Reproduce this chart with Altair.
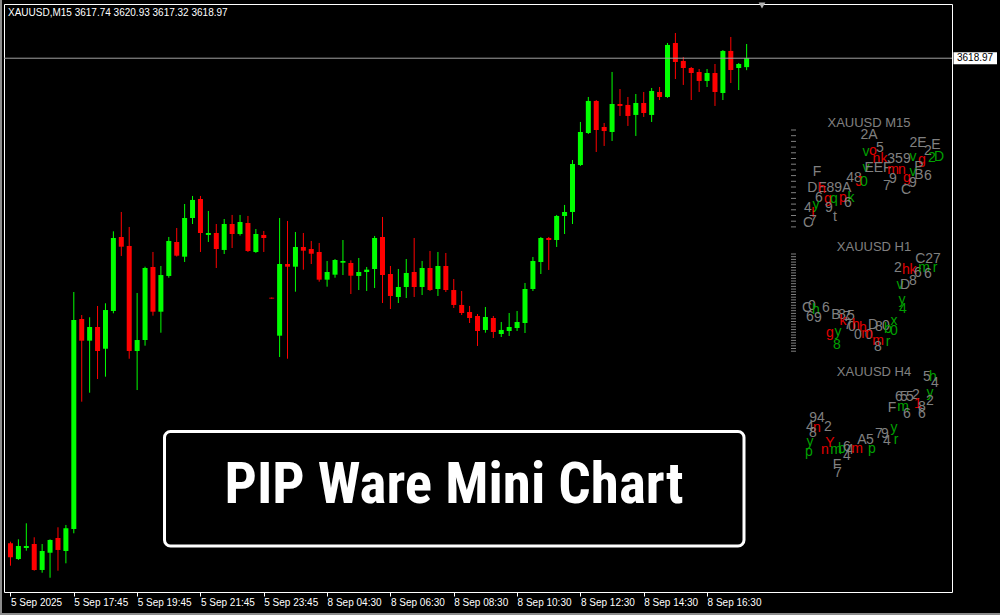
import altair as alt
import pandas as pd

# ---- XAUUSD M15 candles, 5 Sep 15:45 .. 8 Sep ----
OPEN = [3552.03, 3549.86, 3551.38, 3551.93, 3548.35, 3550.73, 3552.76, 3550.97, 3554.00, 3582.98,
        3579.99, 3581.88, 3578.88, 3584.09, 3594.30, 3593.06, 3578.57, 3580.08, 3590.16, 3583.99,
        3588.92, 3593.61, 3591.58, 3596.92, 3599.54, 3594.58, 3594.85, 3592.51, 3596.09, 3594.71,
        3596.23, 3592.23, 3594.58, 3585.92, 3580.68, 3590.57, 3590.20, 3592.92, 3592.64, 3592.23,
        3588.41, 3589.10, 3590.75, 3590.71, 3588.92, 3589.47, 3589.88, 3594.30, 3589.19, 3586.02,
        3587.40, 3589.47, 3587.40, 3590.02, 3587.12, 3590.30, 3586.98, 3584.92, 3583.95, 3583.40,
        3581.47, 3583.12, 3580.91, 3581.33, 3581.74, 3582.43, 3587.12, 3590.85, 3594.16, 3593.88,
        3597.20, 3597.75, 3604.23, 3608.65, 3613.07, 3609.48, 3608.79, 3612.65, 3612.52, 3611.14,
        3612.79, 3611.14, 3614.31, 3613.62, 3621.07, 3618.59, 3617.62, 3617.07, 3615.83, 3616.93,
        3614.17, 3619.97, 3617.62, 3617.74]
HIGH = [3552.25, 3552.58, 3554.79, 3552.86, 3551.93, 3552.58, 3554.24, 3554.56, 3586.71, 3583.53,
        3583.22, 3584.78, 3585.15, 3595.08, 3597.75, 3595.68, 3586.57, 3590.20, 3592.23, 3590.30,
        3594.30, 3595.54, 3598.85, 3599.96, 3599.96, 3597.89, 3596.09, 3596.78, 3597.34, 3597.34,
        3597.20, 3595.40, 3595.13, 3585.95, 3596.92, 3596.51, 3594.99, 3594.85, 3593.75, 3593.47,
        3590.99, 3591.26, 3593.88, 3591.08, 3591.40, 3590.16, 3594.44, 3597.06, 3590.30, 3589.88,
        3591.26, 3594.16, 3590.99, 3592.37, 3592.23, 3592.09, 3588.50, 3586.85, 3584.78, 3583.67,
        3584.64, 3583.40, 3582.57, 3583.81, 3584.09, 3587.95, 3591.54, 3594.30, 3594.30, 3597.34,
        3598.72, 3604.92, 3610.17, 3613.62, 3613.20, 3610.03, 3617.07, 3614.72, 3613.62, 3614.03,
        3614.31, 3614.86, 3615.00, 3621.07, 3622.45, 3619.14, 3617.76, 3617.48, 3617.48, 3618.17,
        3620.10, 3621.90, 3618.31, 3620.93]
LOW = [3548.94, 3549.73, 3551.01, 3548.25, 3547.97, 3547.28, 3548.25, 3549.27, 3553.41, 3571.57,
       3572.81, 3574.70, 3575.02, 3583.77, 3591.68, 3577.50, 3573.18, 3579.30, 3583.44, 3581.09,
       3588.68, 3591.60, 3590.85, 3596.09, 3592.23, 3593.61, 3590.02, 3591.95, 3592.78, 3594.50,
       3592.23, 3592.10, 3592.23, 3585.78, 3577.74, 3577.50, 3586.75, 3589.79, 3590.57, 3588.13,
       3587.44, 3588.68, 3589.05, 3586.43, 3586.98, 3586.85, 3587.26, 3585.19, 3584.36, 3585.19,
       3585.88, 3586.02, 3586.29, 3586.85, 3586.16, 3586.71, 3584.50, 3583.53, 3582.43, 3579.26,
       3581.09, 3580.36, 3580.50, 3580.64, 3581.33, 3581.05, 3586.85, 3589.19, 3589.75, 3592.92,
       3594.71, 3596.09, 3604.10, 3608.51, 3606.03, 3606.86, 3607.55, 3611.00, 3609.62, 3608.24,
       3610.86, 3610.17, 3613.20, 3613.50, 3616.10, 3615.28, 3613.20, 3614.31, 3615.00, 3612.38,
       3613.20, 3615.55, 3614.58, 3617.32]
CLOSE = [3550.10, 3551.66, 3551.66, 3548.35, 3550.97, 3552.49, 3551.11, 3554.10, 3582.84, 3579.99,
         3581.88, 3578.57, 3584.22, 3594.16, 3592.96, 3578.57, 3580.08, 3590.02, 3583.99, 3589.05,
         3593.75, 3591.72, 3596.92, 3599.41, 3594.85, 3594.85, 3592.64, 3596.09, 3594.71, 3596.37,
         3592.37, 3594.71, 3594.16, 3585.80, 3590.57, 3590.20, 3592.92, 3592.41, 3591.99, 3588.41,
         3589.47, 3591.12, 3590.99, 3588.96, 3589.47, 3589.79, 3594.16, 3589.05, 3586.16, 3587.40,
         3589.33, 3587.40, 3590.02, 3586.98, 3590.30, 3586.98, 3584.92, 3583.81, 3583.12, 3581.33,
         3583.26, 3581.19, 3581.47, 3581.88, 3582.57, 3587.12, 3590.99, 3594.16, 3593.88, 3597.20,
         3597.75, 3604.37, 3608.79, 3613.07, 3609.06, 3608.92, 3612.65, 3612.38, 3611.00, 3612.79,
         3611.41, 3614.45, 3613.62, 3620.80, 3618.45, 3617.62, 3616.93, 3615.83, 3616.93, 3614.31,
         3619.97, 3617.34, 3618.17, 3618.97]

SYMBOL = "XAUUSD,M15"
XLABELS = ["5 Sep 2025", "5 Sep 17:45", "5 Sep 19:45", "5 Sep 21:45", "5 Sep 23:45",
           "8 Sep 04:30", "8 Sep 06:30", "8 Sep 08:30", "8 Sep 10:30", "8 Sep 12:30",
           "8 Sep 14:30", "8 Sep 16:30"]
YTICKS = [3623.00, 3618.40, 3613.90, 3609.40, 3604.90, 3600.40, 3595.80, 3591.30, 3586.80,
          3582.20, 3577.70, 3573.20, 3568.70, 3564.10, 3559.60, 3555.10, 3550.60, 3546.00]

BANNER = "PIP Ware Mini Chart"
MINI_TITLES = [("XAUUSD M15", 869, 123), ("XAUUSD H1", 874, 247), ("XAUUSD H4", 874, 372)]

G, R, N = "#808080", "#E00000", "#00A000"
# glyphs printed by the mini-chart indicator (char, x, y, colour), screen pixels
MINI_GLYPHS = [
    ("2A", 869, 135, G), ("2E", 918, 143, G), ("E", 936, 145, G), ("2", 928, 151, G),
    ("v", 866, 152, N), ("o", 873, 151, R), ("5", 880, 148, G), ("nk", 880, 159, R),
    ("359", 899, 159, G), ("v", 913, 157, N), ("g", 922, 160, R), ("2", 932, 158, N),
    ("D", 939, 157, N), ("v", 866, 168, N), ("EEF", 878, 168, G), ("m", 893, 170, R),
    ("n", 902, 170, R), ("P", 919, 167, G), ("v", 913, 172, N), ("B", 919, 175, G),
    ("6", 928, 176, G), ("9", 893, 179, G), ("7", 887, 186, G), ("g", 907, 178, R),
    ("9", 913, 183, G), ("C", 906, 190, G), ("F", 817, 172, G), ("48", 854, 178, G),
    ("J", 859, 182, R), ("0", 864, 182, N), ("DE", 817, 188, G), ("h", 822, 189, R),
    ("89A", 839, 188, G), ("6", 819, 198, G), ("g", 828, 199, R), ("q", 834, 199, N),
    ("p", 843, 198, R), ("k", 851, 198, N), ("6", 848, 203, G), ("4", 808, 208, G),
    ("y", 816, 205, N), ("I", 813, 213, R), ("9", 829, 208, G), ("t", 835, 217, G),
    ("C", 808, 223, G), ("7", 813, 221, G),
    # H1
    ("C27", 928, 259, G), ("2", 898, 268, G), ("h", 906, 270, R), ("k", 913, 270, R),
    ("6", 918, 273, G), ("m", 924, 268, N), ("6", 928, 274, G), ("r", 935, 268, N),
    ("v", 900, 285, N), ("D", 905, 285, G), ("8", 913, 281, G), ("y", 902, 300, N),
    ("4", 903, 309, N), ("C", 807, 308, G), ("0", 812, 306, G), ("h", 816, 310, N),
    ("6", 826, 308, G), ("6", 810, 317, G), ("9", 818, 318, G), ("B", 836, 315, G),
    ("8", 842, 315, G), ("7", 847, 317, G), ("5", 851, 316, G), ("k", 843, 321, R),
    ("7", 848, 325, G), ("0", 852, 327, G), ("h", 856, 325, R), ("h", 863, 328, R),
    ("D", 873, 325, G), ("8", 879, 327, G), ("0", 886, 326, G), ("x", 894, 321, N),
    ("b", 888, 329, N), ("0", 894, 331, N), ("g", 830, 333, R), ("y", 838, 332, N),
    ("8", 837, 345, N), ("0", 858, 335, G), ("0", 869, 335, G), ("m", 867, 334, R),
    ("m", 878, 341, R), ("r", 888, 342, N), ("8", 878, 347, G),
    # H4
    ("5", 927, 377, G), ("h", 933, 377, N), ("4", 935, 383, G), ("y", 930, 393, N),
    ("6", 899, 397, G), ("5", 904, 397, G), ("5", 910, 397, G), ("2", 916, 395, G),
    ("2", 930, 401, G), ("F", 892, 408, G), ("m", 903, 407, N), ("1", 918, 404, R),
    ("8", 922, 407, G), ("6", 907, 414, G), ("6", 922, 414, G), ("y", 894, 428, N),
    ("r", 896, 440, N), ("4", 887, 441, G), ("9", 885, 434, G), ("7", 879, 434, G),
    ("A", 862, 440, G), ("5", 870, 440, G), ("94", 817, 418, G), ("4", 810, 427, G),
    ("n", 817, 428, R), ("2", 828, 427, G), ("8", 813, 433, G), ("y", 810, 442, N),
    ("p", 809, 452, N), ("n", 825, 450, R), ("Y", 830, 443, R), ("m", 836, 450, N),
    ("b", 842, 449, N), ("6", 847, 447, G), ("4", 850, 450, G), ("m", 857, 449, R),
    ("p", 872, 449, N), ("4", 847, 456, G), ("F", 837, 465, G), ("7", 838, 473, G),
]
# price-scale dashes of the M15 and H1 mini panels
MINI_DASHES = [130 + 5.7 * k for k in range(18)] + [254 + 2.7 * k for k in range(37)]

UP, DOWN = "#00FF00", "#FF0000"
FONT = "Liberation Sans"
BANNER_FONT = "Roboto Condensed, Roboto, sans-serif"

W, H = 948, 588
OX, OY = 4, 4  # plot origin on the page

df = pd.DataFrame({"i": range(len(OPEN)), "open": OPEN, "high": HIGH, "low": LOW, "close": CLOSE})
df["col"] = [UP if c >= o else DOWN for o, c in zip(OPEN, CLOSE)]

last = df.iloc[-1]
caption = f"{SYMBOL}  {last.open:.2f} {last.high:.2f} {last.low:.2f} {last.close:.2f}"

xscale = alt.Scale(domain=[-0.1875, 118.3125], nice=False, zero=False)
yscale = alt.Scale(domain=[3545.31, 3626.45], nice=False, zero=False)

label_expr = "[" + ",".join(f"'{s}'" for s in XLABELS) + "][round(datum.value / 8)]"
X = alt.X("i:Q", scale=xscale, title=None,
          axis=alt.Axis(values=[8 * k for k in range(len(XLABELS))], labelExpr=label_expr,
                        labelAlign="left", labelBaseline="top", labelPadding=1,
                        labelFlush=False, labelOverlap=False, labelBound=False))
Y = alt.Y("low:Q", scale=yscale, title=None,
          axis=alt.Axis(orient="right", values=YTICKS, format=".2f", labelAlign="left",
                        labelBaseline="middle", labelPadding=2, labelFlush=False,
                        labelOverlap=False, labelBound=False))
C = alt.Color("col:N", scale=None)

base = alt.Chart(df)
wicks = base.mark_rule(strokeWidth=1).encode(x=X, y=Y, y2="high:Q", color=C)
bodies = base.mark_bar(size=5).encode(
    x=X, y=alt.Y("open:Q", scale=yscale, title=None, axis=None), y2="close:Q", color=C)

lastdf = df.tail(1)
price_line = alt.Chart(lastdf).mark_rule(color="#A0A0A0", strokeWidth=1).encode(
    y=alt.Y("close:Q", scale=yscale, title=None, axis=None))
price_box = alt.Chart(lastdf).mark_rule(color="#FFFFFF", strokeWidth=12, strokeCap="butt").encode(
    x=alt.value(W + 1.5), x2=alt.value(W + 45),
    y=alt.Y("close:Q", scale=yscale, title=None, axis=None))
price_txt = alt.Chart(lastdf).mark_text(
    align="left", baseline="middle", font=FONT, fontSize=10, color="#000000").encode(
    x=alt.value(W + 5), y=alt.Y("close:Q", scale=yscale, title=None, axis=None),
    text=alt.Text("close:Q", format=".2f"))

caption_txt = alt.Chart(pd.DataFrame({"t": [caption]})).mark_text(
    align="left", baseline="middle", font=FONT, fontSize=10, color="#FFFFFF").encode(
    x=alt.value(8 - OX), y=alt.value(12.5 - OY), text="t:N")

shift_mark = alt.Chart(pd.DataFrame({"s": [1]})).mark_point(
    shape="triangle-down", filled=True, size=45, color="#B4B4B4", opacity=1).encode(
    x=alt.value(762 - OX), y=alt.value(5.5 - OY))

# window edge on the left and bottom
edge = alt.Chart(pd.DataFrame({"s": [1]}))
edge_left = edge.mark_rule(color="#8C8C8C", strokeWidth=2).encode(
    x=alt.value(1 - OX), y=alt.value(0 - OY), y2=alt.value(615 - OY))
edge_bottom = edge.mark_rule(color="#8C8C8C", strokeWidth=2).encode(
    x=alt.value(0 - OX), x2=alt.value(1000 - OX), y=alt.value(614 - OY))

# mini chart panels on the right
gdf = pd.DataFrame(MINI_GLYPHS, columns=["ch", "gx", "gy", "gc"])
glyphs = alt.Chart(gdf).mark_text(
    font=FONT, fontSize=14, baseline="middle", align="center", dx=-OX, dy=-OY).encode(
    x=alt.X("gx:Q", scale=None, axis=None), y=alt.Y("gy:Q", scale=None, axis=None),
    color=alt.Color("gc:N", scale=None), text="ch:N")

tdf = pd.DataFrame(MINI_TITLES, columns=["t", "tx", "ty"])
mini_titles = alt.Chart(tdf).mark_text(
    font=FONT, fontSize=13, baseline="middle", align="center", color="#808080",
    dx=-OX, dy=-OY).encode(
    x=alt.X("tx:Q", scale=None, axis=None), y=alt.Y("ty:Q", scale=None, axis=None), text="t:N")

ddf = pd.DataFrame({"dy": [v - OY for v in MINI_DASHES]})
dashes = alt.Chart(ddf).mark_rule(color="#808080", strokeWidth=1).encode(
    x=alt.value(791 - OX), x2=alt.value(796 - OX), y=alt.Y("dy:Q", scale=None, axis=None))

# banner
bdf = pd.DataFrame({"t": [BANNER]})
banner_box = alt.Chart(bdf).mark_rect(
    fill="#000000", stroke="#FFFFFF", strokeWidth=3, cornerRadius=6).encode(
    x=alt.value(164.5 - OX), x2=alt.value(744 - OX),
    y=alt.value(431.5 - OY), y2=alt.value(546 - OY))
banner_txt = alt.Chart(bdf).mark_text(
    font=BANNER_FONT, fontWeight="bold",
    fontSize=57, color="#FFFFFF", align="center", baseline="middle").encode(
    x=alt.value(454 - OX), y=alt.value(486 - OY), text="t:N")

chart = alt.layer(
    wicks, bodies, price_line, dashes, glyphs, mini_titles, banner_box, banner_txt,
    caption_txt, shift_mark, price_box, price_txt, edge_left, edge_bottom,
).properties(
    width=W, height=H,
    padding={"left": OX, "top": OY, "right": 1000 - OX - W, "bottom": 615 - OY - H},
    autosize="none", background="#000000",
).configure_view(
    stroke="#FFFFFF", strokeWidth=1,
).configure_axis(
    domain=False, grid=False, tickColor="#FFFFFF", tickSize=4, tickWidth=1,
    labelColor="#FFFFFF", labelFont=FONT, labelFontSize=10,
)

chart.save("out.html", embed_options={"renderer": "svg", "actions": False})
